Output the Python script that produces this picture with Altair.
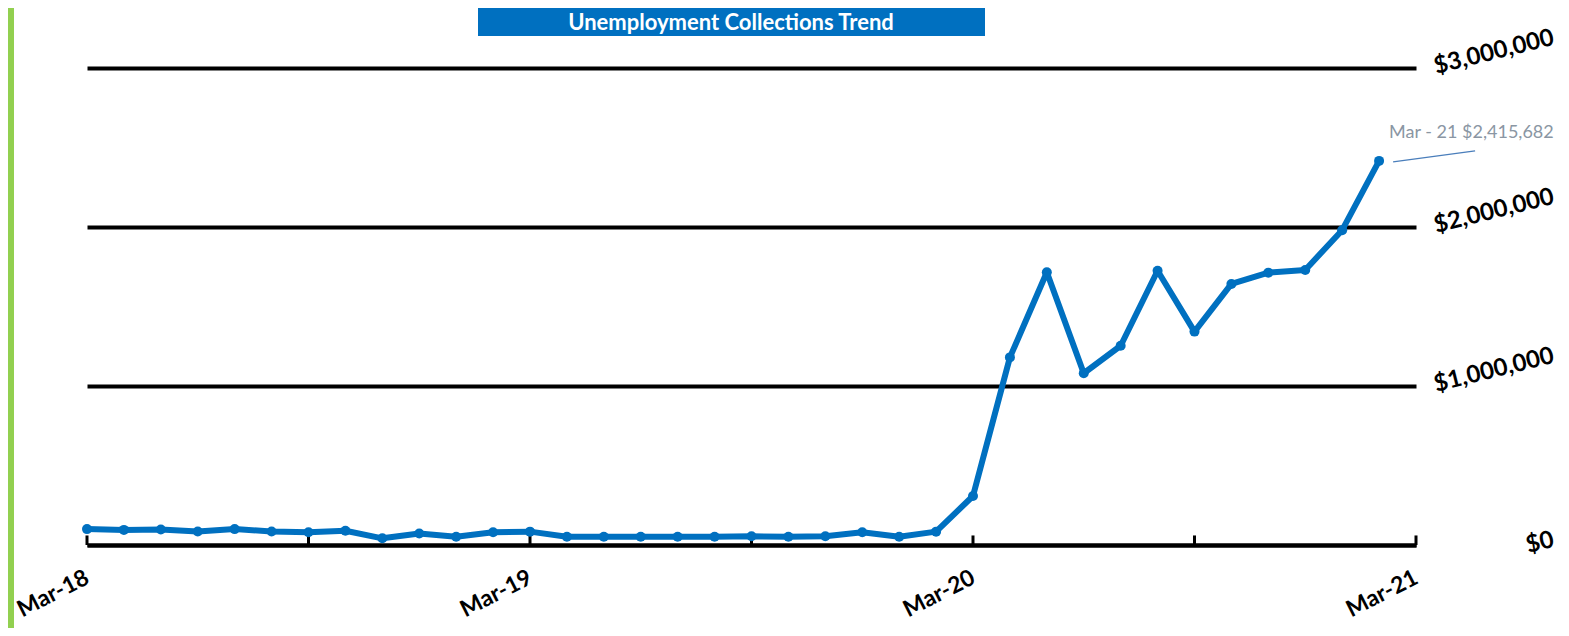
import json
import altair as alt
import pandas as pd

# ---------------- data ----------------
month_labels = [
    "Mar-18", "Apr-18", "May-18", "Jun-18", "Jul-18", "Aug-18", "Sep-18", "Oct-18",
    "Nov-18", "Dec-18", "Jan-19", "Feb-19", "Mar-19", "Apr-19", "May-19", "Jun-19",
    "Jul-19", "Aug-19", "Sep-19", "Oct-19", "Nov-19", "Dec-19", "Jan-20", "Feb-20",
    "Mar-20", "Apr-20", "May-20", "Jun-20", "Jul-20", "Aug-20", "Sep-20", "Oct-20",
    "Nov-20", "Dec-20", "Jan-21", "Feb-21",
]
collections = [
    100000, 95000, 98000, 85000, 100000, 85000, 80000, 90000,
    42000, 72000, 52000, 80000, 84000, 52000, 52000, 52000,
    52000, 52000, 55000, 52000, 55000, 80000, 52000, 84000,
    308000, 1180000, 1715000, 1080000, 1253000, 1725000, 1342000, 1642000,
    1713000, 1730000, 1980000, 2415682,
]
axis_labels = ["Mar-18", "Mar-19", "Mar-20", "Mar-21"]
axis_positions = [0, 12, 24, 36]
tick_positions = [0, 6, 12, 18, 24, 30, 36]
y_values = [0, 1000000, 2000000, 3000000]
title_text = "Unemployment Collections Trend"
callout_label = "Mar - 21"

BLUE = "#0070C0"
W, H = 1329, 477

df = pd.DataFrame({"idx": list(range(len(collections))),
                   "month": month_labels,
                   "amount": collections})
last = df.tail(1).copy()
last["callout"] = f"{callout_label} ${collections[-1]:,}"
ticks_df = pd.DataFrame({"idx": tick_positions,
                         "amount": [0] * len(tick_positions),
                         "top": [60000] * len(tick_positions)})
title_df = pd.DataFrame({"t": [title_text]})

x_scale = alt.Scale(domain=[0, 36], nice=False, zero=False)
y_scale = alt.Scale(domain=[0, 3000000], nice=False)

label_expr = json.dumps(axis_labels) + "[round(datum.value / 12)]"

x_axis = alt.Axis(
    values=axis_positions, labelExpr=label_expr, title=None,
    ticks=False, grid=False, domain=True, domainColor="black", domainWidth=4,
    labelAngle=333, labelAlign="right", labelBaseline="middle", labelPadding=31,
    labelFont="Lato", labelFontSize=23, labelFontWeight="bold", labelColor="black",
)
y_axis = alt.Axis(
    orient="right", values=y_values, format="$,.0f", title=None,
    grid=True, gridColor="black", gridWidth=4, domain=False, ticks=False,
    labelPadding=137, labelAlign="right", labelBaseline="middle", labelAngle=346,
    labelOffset={"condition": {"test": "datum.value === 0", "value": -6}, "value": -31},
    labelFont="Lato", labelFontSize=24, labelFontWeight="bold", labelColor="black",
)

X = alt.X("idx:Q", scale=x_scale, axis=x_axis)
Y = alt.Y("amount:Q", scale=y_scale, axis=y_axis)

base = alt.Chart(df)

line = base.mark_line(color=BLUE, strokeWidth=6, strokeJoin="round").encode(x=X, y=Y)
pts = base.mark_circle(color=BLUE, size=100, opacity=1).encode(x=X, y=Y)
tick_marks = alt.Chart(ticks_df).mark_rule(color="black", strokeWidth=3).encode(
    x=X, y=Y, y2="top:Q",
)
leader = alt.Chart(last).mark_rule(
    color="#4a7ebb", strokeWidth=1.3, xOffset=14, yOffset=1, x2Offset=96, y2Offset=-10
).encode(x=X, x2="idx:Q", y=Y, y2="amount:Q")
callout = alt.Chart(last).mark_text(
    align="left", baseline="middle", dx=10, dy=-28,
    font="Lato", fontSize=18, color="#8a96a3",
).encode(x=X, y=Y, text="callout:N")

title_box = alt.Chart(title_df).mark_rect(color=BLUE).encode(
    x=alt.value(391), x2=alt.value(898), y=alt.value(-60), y2=alt.value(-32),
)
title_txt = alt.Chart(title_df).mark_text(
    align="center", baseline="middle", font="Lato", fontSize=22,
    fontWeight="bold", color="white",
).encode(x=alt.value(644), y=alt.value(-45), text="t:N")
green_bar = alt.Chart(title_df).mark_rect(color="#92D050").encode(
    x=alt.value(-79), x2=alt.value(-73), y=alt.value(-60), y2=alt.value(H + 83),
)

chart = alt.layer(
    line, tick_marks, pts, leader, callout, title_box, title_txt, green_bar
).properties(
    width=W, height=H,
    padding={"left": 79, "top": 60, "right": 145, "bottom": 83},
    autosize=alt.AutoSizeParams(type="none"),
    background="white",
).configure_view(stroke=None)

chart.save("out.html", embed_options={"renderer": "svg", "actions": False})
